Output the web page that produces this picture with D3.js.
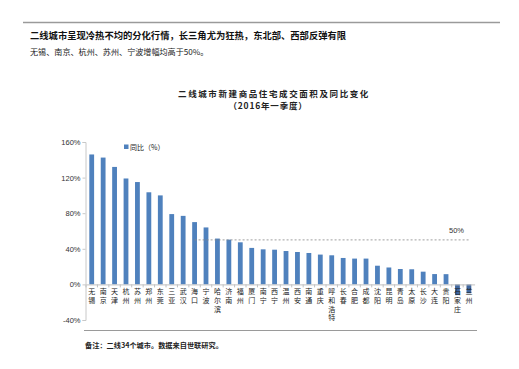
<!DOCTYPE html>
<html>
<head>
<meta charset="utf-8">
<script src="https://cdn.jsdelivr.net/npm/d3@7/dist/d3.min.js"></script>
<style>
  html, body { margin: 0; padding: 0; background: #fff; }
  svg { display: block; font-family: "Noto Sans CJK SC", "Liberation Sans", sans-serif; }
</style>
</head>
<body>
<svg id="chart" width="519" height="369"></svg>
<script>
const cities = ["无锡","南京","天津","杭州","苏州","郑州","东莞","三亚","武汉","海口",
  "宁波","哈尔滨","济南","福州","厦门","南宁","西宁","温州","西安","南通",
  "重庆","呼和浩特","长春","合肥","成都","沈阳","昆明","青岛","太原","长沙",
  "大连","贵阳","石家庄","兰州"];
const yoy = [146,142.5,132,119,115,103.5,100,79,77,70,
  64,51.5,50.3,47.3,41,39.4,39,37.5,36.4,35.3,
  33.5,32.7,29.7,29,29,21,19,17.3,17,14.3,
  11.6,11.5,-12,-10];
const yTicks = [-40,0,40,80,120,160];
const refValue = 50;
const refStart = "海口", refEnd = "兰州";

const svg = d3.select("#chart");

// top rule and titles
svg.append("line").attr("x1",23).attr("x2",500).attr("y1",22.5).attr("y2",22.5)
  .attr("stroke","#9a9a9a").attr("stroke-width",1.5);
svg.append("text").attr("x",30).attr("y",39).attr("font-size",9.3).attr("font-weight","bold")
  .attr("fill","#111").text("二线城市呈现冷热不均的分化行情，长三角尤为狂热，东北部、西部反弹有限");
svg.append("text").attr("x",30).attr("y",55).attr("font-size",8.1).attr("fill","#222")
  .text("无锡、南京、杭州、苏州、宁波增幅均高于50%。");

svg.append("text").attr("x",274).attr("y",97).attr("text-anchor","middle").attr("font-size",8.5)
  .attr("font-weight","bold").attr("letter-spacing",1.6).attr("fill","#222")
  .text("二线城市新建商品住宅成交面积及同比变化");
svg.append("text").attr("x",268).attr("y",109).attr("text-anchor","middle").attr("font-size",8.5)
  .attr("font-weight","bold").attr("letter-spacing",0.8).attr("fill","#222")
  .text("（2016年一季度）");

// scales
const x = d3.scaleBand().domain(cities).range([86, 474.6]).padding(0);
const y = d3.scaleLinear().domain([-40,160]).range([320,142]);
const barW = x.bandwidth()*0.42;

// y axis
const yAxis = d3.axisLeft(y).tickValues(yTicks).tickFormat(d => d + "%").tickSize(3).tickPadding(2);
const gy = svg.append("g").attr("transform","translate(85.5,0)").call(yAxis);
gy.select(".domain").attr("stroke","#c8c8c8");
gy.selectAll(".tick line").attr("stroke","#c8c8c8");
gy.selectAll(".tick text").attr("font-size",7.5).attr("fill","#333")
  .attr("font-family","'Liberation Sans', Arial, sans-serif");

// bars
svg.append("g").selectAll("rect").data(cities).join("rect")
  .attr("x", (d) => x(d) + (x.bandwidth()-barW)/2)
  .attr("width", barW)
  .attr("y", (d,i) => y(Math.max(0, yoy[i])))
  .attr("height", (d,i) => Math.abs(y(yoy[i]) - y(0)))
  .attr("fill", (d,i) => yoy[i] < 0 ? "#40679f" : "#4f81bd");

// zero axis
const gx = svg.append("g").attr("transform",`translate(0,${y(0)})`)
  .call(d3.axisBottom(x).tickSize(0).tickFormat(""));
gx.select(".domain").attr("stroke","#c0c0c0");
svg.append("g").selectAll("line").data(cities).join("line")
  .attr("x1", d => x(d)).attr("x2", d => x(d))
  .attr("y1", y(0)).attr("y2", y(0)+3).attr("stroke","#c0c0c0");

// vertical city labels
const lbl = svg.append("g");
cities.forEach(c => {
  const cx = x(c) + x.bandwidth()/2;
  Array.from(c).forEach((ch, k) => {
    lbl.append("text").attr("x", cx).attr("y", y(0) + 10 + k*8.6)
      .attr("text-anchor","middle").attr("font-size",7).attr("fill","#222").text(ch);
  });
});

// 50% reference line
svg.append("line")
  .attr("x1", x(refStart) + x.bandwidth()/2).attr("x2", x(refEnd) + x.bandwidth()/2)
  .attr("y1", y(refValue)).attr("y2", y(refValue))
  .attr("stroke","#888").attr("stroke-width",0.8).attr("stroke-dasharray","2,2");
svg.append("text").attr("x",449).attr("y",y(refValue)-7).attr("font-size",7.5).attr("fill","#333")
  .attr("font-family","'Liberation Sans', Arial, sans-serif").text(refValue + "%");

// legend
svg.append("rect").attr("x",124).attr("y",144.5).attr("width",4.5).attr("height",4.5).attr("fill","#4f81bd");
svg.append("text").attr("x",130).attr("y",149.5).attr("font-size",7).attr("fill","#222").text("同比（%）");

// bottom rule and note
svg.append("line").attr("x1",84).attr("x2",477).attr("y1",330.5).attr("y2",330.5)
  .attr("stroke","#9a9a9a").attr("stroke-width",1.2);
svg.append("text").attr("x",85).attr("y",348).attr("font-size",7.2).attr("font-weight","bold")
  .attr("fill","#222").text("备注：二线34个城市。数据来自世联研究。");
</script>
</body>
</html>
